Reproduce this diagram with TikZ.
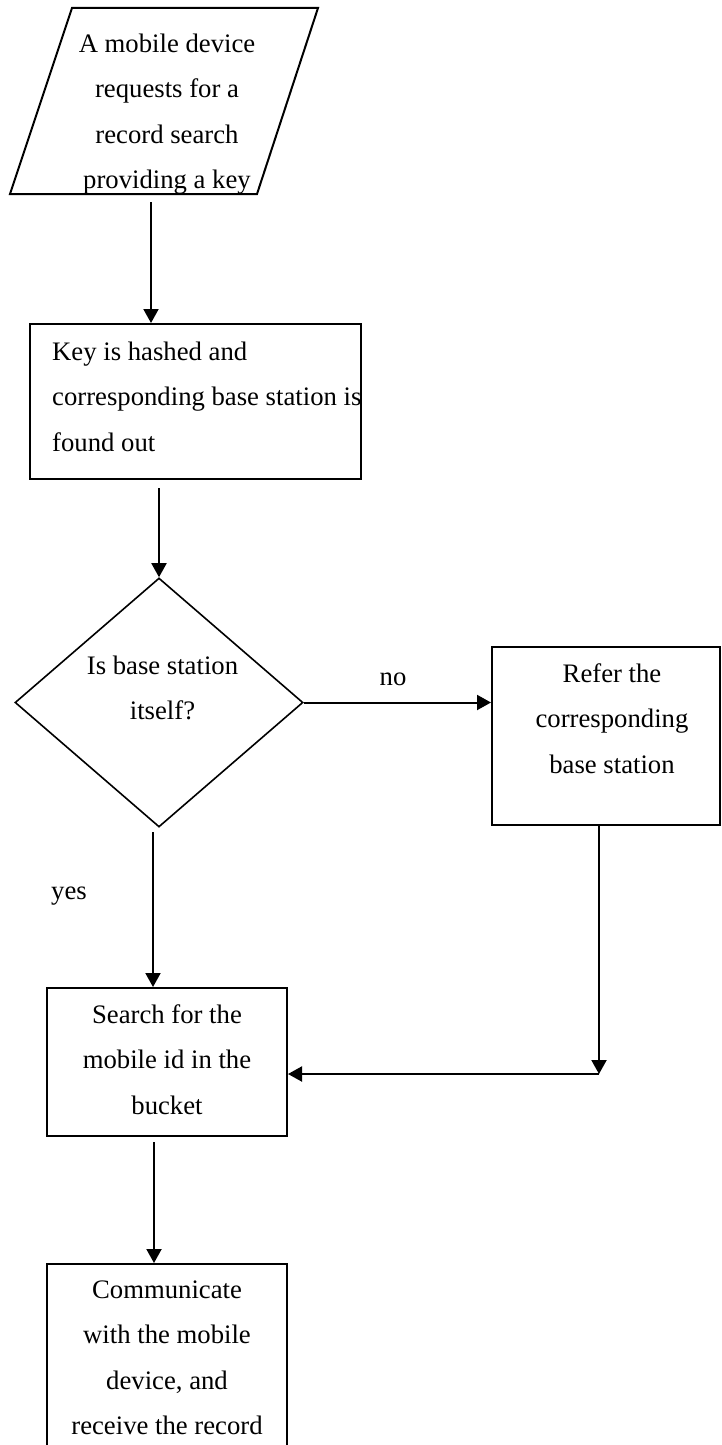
\documentclass[tikz,border=0pt]{standalone}
\usepackage{fontspec}
\setmainfont{Liberation Serif}
\usetikzlibrary{arrows.meta,shapes.geometric}

\tikzset{
  outline/.style={draw=black, line width=2pt, line join=miter},
  boxnode/.style={outline, rectangle, inner sep=0pt, minimum width=#1},
  decision/.style={draw=black, line width=1.6pt, diamond, inner sep=0pt},
  flow/.style={draw=black, line width=2pt, -{Triangle[length=14pt,width=15pt]}},
  txt/.style={inner sep=0pt, align=center, anchor=north,
              font=\fontsize{26.7}{45.5}\selectfont},
  lbl/.style={inner sep=0pt, anchor=base,
              font=\fontsize{26.7}{45.5}\selectfont}
}

\begin{document}
\begin{tikzpicture}[x=1pt, y=-1pt]
  \clip (0,0) rectangle (721,1445);
  \fill[white] (0,0) rectangle (721,1445);

  % input: the request parallelogram
  \draw[outline] (72,8) -- (318,8) -- (257,194) -- (10,194) -- cycle;
  \node[txt] (t1) at (167,20.15)
    {\strut A mobile device\\requests for a\\record search\\providing a key};

  % hashing step
  \node[boxnode=331pt, minimum height=155pt] (b2) at (195.5,401.5) {};
  \node[txt, anchor=north west, align=left] (t2) at (52,328.15)
    {\strut Key is hashed and\\corresponding base station is\\found out};

  % decision
  \node[decision, minimum width=288pt, minimum height=249pt] (d) at (159,702.5) {};
  \node[txt] (td) at (162.5,642.15) {\strut Is base station\\itself?};

  % refer to other station
  \node[boxnode=228pt, minimum height=178pt] (r) at (606,736) {};
  \node[txt] (tr) at (612,650.15) {\strut Refer the\\corresponding\\base station};

  % search in bucket
  \node[boxnode=240pt, minimum height=148pt] (s) at (167,1062) {};
  \node[txt] (ts) at (167,991.15) {\strut Search for the\\mobile id in the\\bucket};

  % communicate with device
  \node[boxnode=240pt, minimum height=220pt] (c) at (167,1374) {};
  \node[txt] (tc) at (167,1266.15)
    {\strut Communicate\\with the mobile\\device, and\\receive the record};

  % connector ends and bends
  \coordinate (a1) at (151,202);
  \coordinate (a2) at (159,488);
  \coordinate (a4) at (153,832);
  \coordinate (a5) at (599,825);
  \coordinate (corner) at (599,1074);
  \coordinate (a7) at (154,1142);

  \draw[flow] (a1) -- (a1 |- b2.north);
  \draw[flow] (a2) -- (d.north);
  \draw[flow] (d.east) -- (d.east -| r.west);
  \draw[flow] (a4) -- (a4 |- s.north);
  \draw[flow] (a5) -- (corner);
  \draw[flow] (corner) -- (corner -| s.east);
  \draw[flow] (a7) -- (a7 |- c.north);

  % branch labels
  \node[lbl] (no) at (393,685) {no};
  \node[lbl, anchor=base west] (yes) at (51,899) {yes};
\end{tikzpicture}
\end{document}
